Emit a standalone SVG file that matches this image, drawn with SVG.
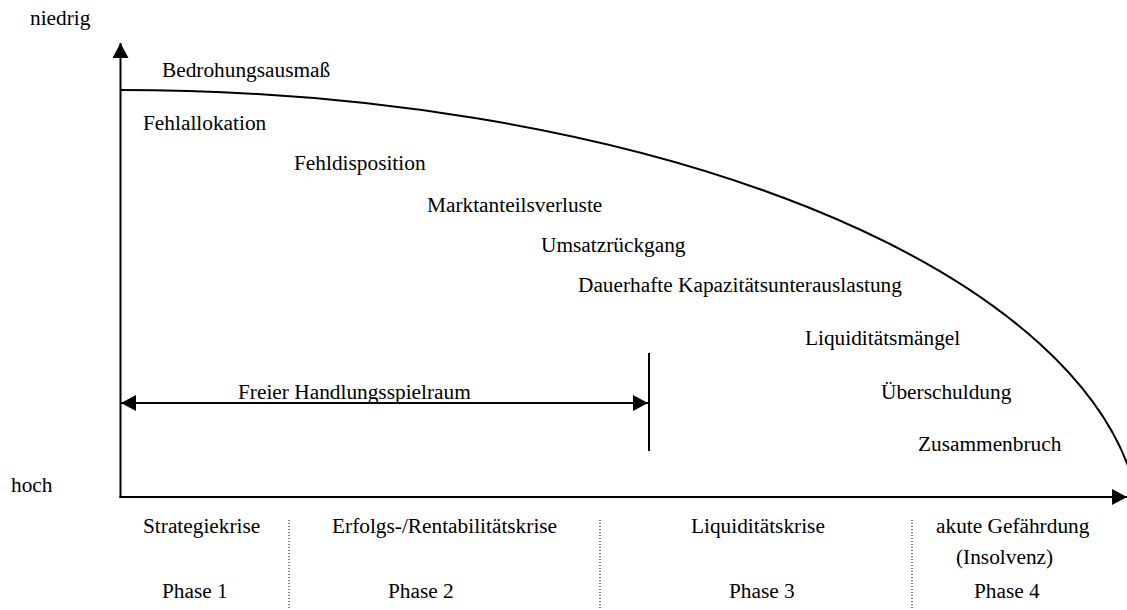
<svg xmlns="http://www.w3.org/2000/svg" width="1127" height="610" viewBox="0 0 1127 610">
<style>
text{font-family:"Liberation Serif","Times New Roman",serif;font-size:21.33px;fill:#000}
.ax{stroke:#000;stroke-width:2;fill:none}
.dot{stroke:#000;stroke-width:1;stroke-dasharray:1 2;fill:none}
</style>
<defs>
<marker id="ah" markerWidth="16" markerHeight="16" refX="15" refY="8" orient="auto-start-reverse" markerUnits="userSpaceOnUse">
<path d="M0,0 L15,8 L0,16 Z" fill="#000"/>
</marker>
</defs>
<rect width="1127" height="610" fill="#fff"/>
<g id="axes">
<line class="ax" x1="120.5" y1="498" x2="120.5" y2="43" marker-end="url(#ah)"/>
<line class="ax" x1="119.5" y1="497" x2="1127" y2="497" marker-end="url(#ah)"/>
</g>
<g id="curve">
<path class="ax" d="M120,90 A1022,450 0 0 1 1137.5,498"/>
</g>
<g id="connectors">
<line class="ax" x1="121" y1="403" x2="648" y2="403" marker-start="url(#ah)" marker-end="url(#ah)"/>
<line class="ax" x1="649" y1="353" x2="649" y2="451"/>
<line class="dot" x1="289" y1="520" x2="289" y2="610"/>
<line class="dot" x1="600" y1="520" x2="600" y2="610"/>
<line class="dot" x1="912" y1="520" x2="912" y2="610"/>
</g>
<g id="axis-labels">
<text x="30" y="25">niedrig</text>
<text x="11" y="492">hoch</text>
<text x="162" y="77">Bedrohungsausmaß</text>
</g>
<g id="stages">
<text x="143" y="130">Fehlallokation</text>
<text x="294" y="170">Fehldisposition</text>
<text x="427" y="212">Marktanteilsverluste</text>
<text x="541" y="252">Umsatzrückgang</text>
<text x="578" y="292">Dauerhafte Kapazitätsunterauslastung</text>
<text x="805" y="345">Liquiditätsmängel</text>
<text x="881" y="399">Überschuldung</text>
<text x="918" y="451">Zusammenbruch</text>
</g>
<g id="freier">
<text x="238" y="399">Freier Handlungsspielraum</text>
</g>
<g id="phases">
<text x="143" y="533">Strategiekrise</text>
<text x="162" y="598">Phase 1</text>
<text x="332" y="533">Erfolgs-/Rentabilitätskrise</text>
<text x="388" y="598">Phase 2</text>
<text x="691" y="533">Liquiditätskrise</text>
<text x="729" y="598">Phase 3</text>
<text x="936" y="533">akute Gefährdung</text>
<text x="956" y="564">(Insolvenz)</text>
<text x="974" y="598">Phase 4</text>
</g>
</svg>
